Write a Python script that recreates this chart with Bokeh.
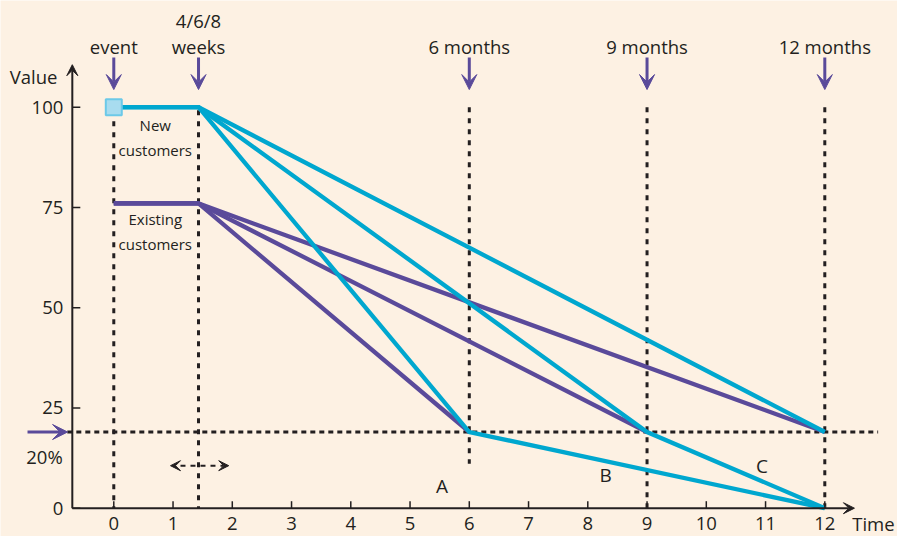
from bokeh.plotting import figure
from bokeh.models import Arrow, VeeHead, ColumnDataSource, Range1d
from bokeh.core.properties import value
from bokeh.embed import file_html
from bokeh.resources import INLINE

# ---- data ----
x_ticks = [0, 1, 2, 3, 4, 5, 6, 7, 8, 9, 10, 11, 12]
y_ticks = [0, 25, 50, 75, 100]
lag = 1.43                 # 4/6/8 weeks, in months
targets = [6, 9, 12]       # 6, 9, 12 months
target_letters = ["A", "B", "C"]
new_level = 100
existing_level = 76
threshold = 19             # 20% line
final_value = 0
milestone_x = [0, lag, 6, 9, 12]
milestone_labels = ["event", "weeks", "6 months", "9 months", "12 months"]

BG = "#FDF1E3"
CYAN = "#00A7CF"
PURPLE = "#5A4A9A"
INK = "#231F20"
FONT = value("Open Sans")

p = figure(width=897, height=536, output_backend="svg", toolbar_location=None,
           x_range=Range1d(-1.912, 13.227), y_range=Range1d(-7.06, 126.61),
           min_border=0, x_axis_location=None, y_axis_location=None,
           background_fill_color=BG, border_fill_color=BG, outline_line_color=None)
p.xgrid.visible = False
p.ygrid.visible = False

x_axis_at = -0.70
px = 1 / 59.25  # one pixel in x data units
py = 1 / 4.01   # one pixel in y data units

# ---- dotted reference lines ----
v_x = [0, lag, 6, 9, 12]
v_top = [new_level - 3 * py, new_level - 3 * py, new_level, new_level, new_level]
v_bot = [final_value, final_value, 11.1, final_value, final_value]
p.segment(x0=v_x, y0=v_top, x1=v_x, y1=v_bot, line_color=INK, line_width=3, line_dash="5 6")
p.segment(x0=[x_axis_at - 5 * px], y0=[threshold], x1=[12.9], y1=[threshold],
          line_color=INK, line_width=3, line_dash="5 4")

# ---- customer lines ----
ex_xs, ex_ys = [], []
for t in targets:
    ex_xs.append([0, lag, t])
    ex_ys.append([existing_level, existing_level, threshold])
p.multi_line(xs=ex_xs, ys=ex_ys, line_color=PURPLE, line_width=4.3, line_join="miter")

nw_xs, nw_ys = [], []
for t in targets:
    xs = [0, lag, t]
    ys = [new_level, new_level, threshold]
    if t < 12:
        xs.append(12)
        ys.append(final_value)
    nw_xs.append(xs)
    nw_ys.append(ys)
p.multi_line(xs=nw_xs, ys=nw_ys, line_color=CYAN, line_width=4.3, line_join="miter")

p.scatter(x=[0], y=[new_level], marker="square", size=16,
          fill_color="#A8DCEF", line_color="#6CC9E8", line_width=2)

# ---- axes (drawn in data space) ----
p.add_layout(Arrow(end=VeeHead(size=11, fill_color=INK, line_color=INK),
                   x_start=x_axis_at, y_start=0, x_end=x_axis_at, y_end=110.6,
                   line_color=INK, line_width=2))
p.add_layout(Arrow(end=VeeHead(size=11, fill_color=INK, line_color=INK),
                   x_start=x_axis_at, y_start=0, x_end=12.5, y_end=0,
                   line_color=INK, line_width=2))
p.segment(x0=[x_axis_at] * len(y_ticks), y0=y_ticks,
          x1=[x_axis_at + 8 * px] * len(y_ticks), y1=y_ticks, line_color=INK, line_width=1.5)
p.segment(x0=x_ticks, y0=[0] * len(x_ticks), x1=x_ticks, y1=[7 * py] * len(x_ticks),
          line_color=INK, line_width=1.5)
p.text(x=[x_axis_at - 9 * px] * len(y_ticks), y=y_ticks, text=[str(v) for v in y_ticks],
       text_font=FONT, text_font_size="18.5px", text_align="right", text_baseline="middle",
       text_color=INK)
p.text(x=x_ticks, y=[-3.9] * len(x_ticks), text=[str(v) for v in x_ticks],
       text_font=FONT, text_font_size="18.5px", text_align="center", text_baseline="middle",
       text_color=INK)
p.text(x=[12.82], y=[-3.9], text=["Time"], text_font=FONT, text_font_size="18.5px",
       text_align="center", text_baseline="middle", text_color=INK)
p.text(x=[-1.355], y=[107.6], text=["Value"], text_font=FONT, text_font_size="18.5px",
       text_align="center", text_baseline="middle", text_color=INK)
p.text(x=[-1.17], y=[13.0], text=["20%"], text_font=FONT, text_font_size="18.5px",
       text_align="center", text_baseline="middle", text_color=INK)

# ---- milestone arrows and labels ----
arr_src = ColumnDataSource(dict(x0=milestone_x, y0=[112.4] * 5, x1=milestone_x, y1=[104.4] * 5))
p.add_layout(Arrow(end=VeeHead(size=15, fill_color=PURPLE, line_color=PURPLE),
                   x_start="x0", y_start="y0", x_end="x1", y_end="y1", source=arr_src,
                   line_color=PURPLE, line_width=3))
p.text(x=milestone_x, y=[115.2] * 5, text=milestone_labels, text_font=FONT,
       text_font_size="18.5px", text_align="center", text_baseline="middle", text_color=INK)
p.text(x=[lag], y=[121.7], text=["4/6/8"], text_font=FONT, text_font_size="18.5px",
       text_align="center", text_baseline="middle", text_color=INK)

# 20% arrow on the left
p.add_layout(Arrow(end=VeeHead(size=15, fill_color=PURPLE, line_color=PURPLE),
                   x_start=-1.456, y_start=threshold, x_end=-0.78, y_end=threshold,
                   line_color=PURPLE, line_width=3))

# double-headed dashed arrow around the weeks line
p.add_layout(Arrow(start=VeeHead(size=10, fill_color=INK, line_color=INK),
                   end=VeeHead(size=10, fill_color=INK, line_color=INK),
                   x_start=0.957, y_start=10.6, x_end=1.94, y_end=10.6,
                   line_color=INK, line_width=2, line_dash="5 5"))

# group labels
p.text(x=[0.70, 0.70, 0.70, 0.70], y=[95.6, 89.4, 72.0, 65.8],
       text=["New", "customers", "Existing", "customers"], text_font=FONT,
       text_font_size="15px", text_align="center", text_baseline="middle", text_color=INK)

# scenario letters
p.text(x=[5.54, 8.30, 10.94], y=[5.6, 8.2, 10.6], text=target_letters, text_font=FONT,
       text_font_size="19px", text_align="center", text_baseline="middle", text_color=INK)

open("out.html", "w").write(file_html(p, INLINE))
